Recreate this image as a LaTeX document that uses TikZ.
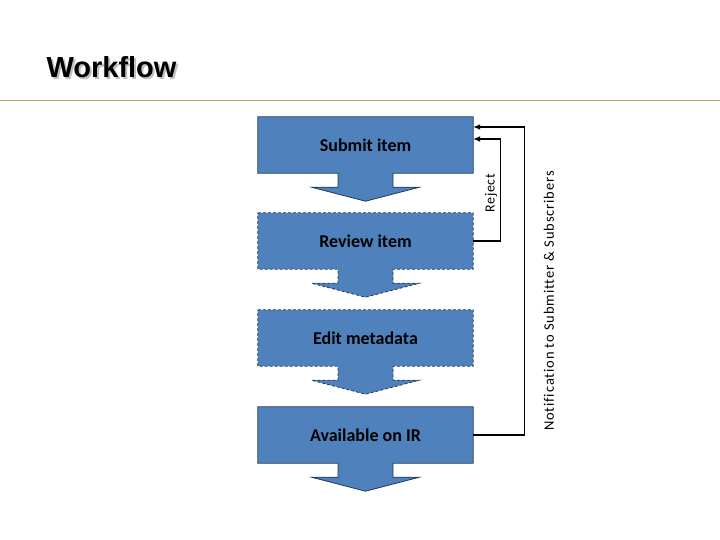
\documentclass[tikz,border=0pt]{standalone}
\usepackage{fontspec}
\setmainfont{Carlito}
\newfontfamily\titlefont{Liberation Sans}
\usetikzlibrary{calc,arrows.meta,backgrounds}

\definecolor{boxblue}{RGB}{79,129,189}
\definecolor{boxline}{RGB}{36,56,86}
\definecolor{rulecol}{RGB}{198,162,112}

\tikzset{
  stepbox/.style={minimum width=215pt,minimum height=56pt,inner sep=0pt,
    font=\fontsize{18}{21}\selectfont\bfseries},
  callout/.style={fill=boxblue,draw=boxline,line width=0.8pt},
  dashbox/.style={dash pattern=on 3pt off 2pt},
  conn/.style={line width=1.2pt,-{Latex[length=7pt,width=6pt]}},
  titletext/.style={anchor=base west,font=\titlefont\fontsize{29}{34}\selectfont\bfseries}
}

\begin{document}
\begin{tikzpicture}[x=1pt,y=-1pt]
\useasboundingbox (0,0) rectangle (720,540);

% title and rule
\node[titletext,text=black!25] at (45,80) {Workflow};
\node[titletext] (title) at (43,78) {Workflow};
\draw[rulecol,line width=1pt] (0,101) -- (720,101);

% steps
\node[stepbox] (submit) at (365.5,145) {Submit item};
\node[stepbox] (review) at (365.5,241) {Review item};
\node[stepbox] (edit) at (365.5,338) {Edit metadata};
\node[stepbox] (avail) at (365.5,435) {Available on IR};

\begin{scope}[on background layer]
\foreach \n/\s in {submit/solid,review/dashbox,edit/dashbox,avail/solid}
  \draw[callout,\s] (\n.north west) -- (\n.north east) -- (\n.south east)
    -- ($(\n.south)+(27.5,0)$) -- ++(0,14) -- ++(26.5,0) -- ($(\n.south)+(0,28)$)
    -- ($(\n.south)+(-54,14)$) -- ++(26.5,0) -- ($(\n.south)+(-27.5,0)$)
    -- (\n.south west) -- cycle;
\end{scope}

% feedback lines
\coordinate (rejin) at ($(submit.east)+(0,-6)$);
\coordinate (notein) at ($(submit.east)+(0,-18)$);
\draw[conn] (review.east) -- ++(27,0) |- (rejin);
\draw[conn] (avail.east) -- ++(51,0) |- (notein);

\node[rotate=90,font=\fontsize{14}{16}\selectfont\addfontfeatures{LetterSpace=4}] (rejectlbl) at (491,193) {Reject};
\node[rotate=90,font=\fontsize{14.5}{17}\selectfont\addfontfeatures{LetterSpace=6,Ligatures=NoCommon}] (notelbl) at (549,301) {Notification to Submitter \& Subscribers};

\end{tikzpicture}
\end{document}
